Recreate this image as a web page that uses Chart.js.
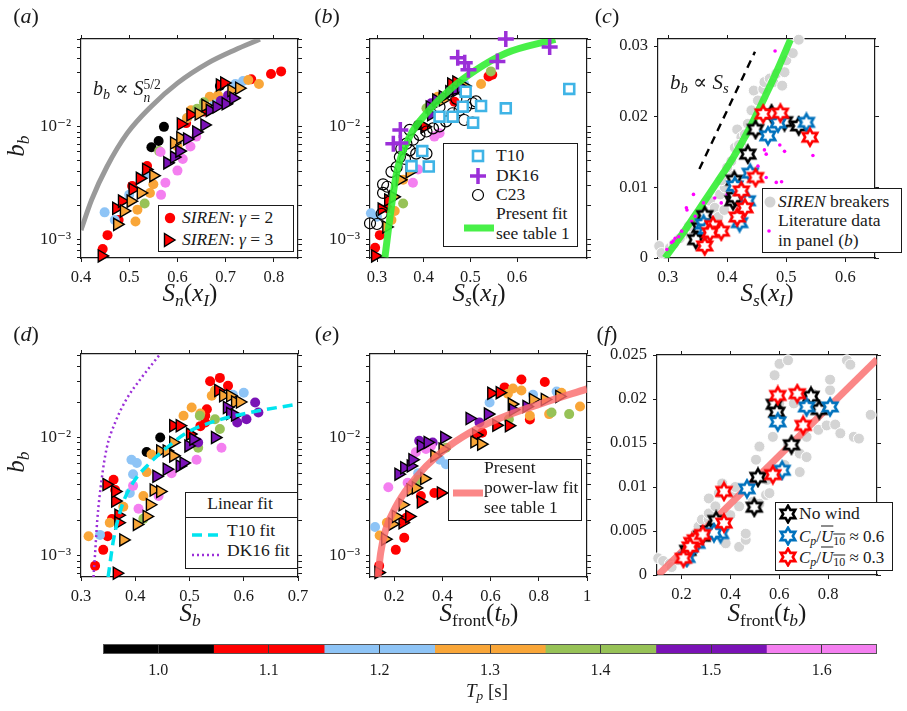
<!DOCTYPE html>
<html>
<head>
<meta charset="utf-8">
<script src="https://cdn.jsdelivr.net/npm/chart.js@4.4.0/dist/chart.umd.min.js"></script>
<style>
  body { margin: 0; background: #fff; }
  #fig { position: relative; width: 907px; height: 711px; overflow: hidden; background: #fff;
         font-family: 'Liberation Serif', 'DejaVu Serif', serif; color: #1a1a1a; }
  #fig canvas { position: absolute; }
  .txt { position: absolute; white-space: nowrap; line-height: 1; }
  .box { position: absolute; background: #fff; border: 1.3px solid #1a1a1a; box-sizing: border-box; }
  .sep { position: absolute; height: 0; border-top: 1.2px solid #1a1a1a; }
  sub { font-size: 70%; vertical-align: -0.3em; line-height: 0; }
  sup { font-size: 70%; vertical-align: 0.55em; line-height: 0; }
  .stack { display: inline-flex; flex-direction: column; font-size: 68%; line-height: 0.95; vertical-align: 0.45em; }
  .ovl { text-decoration: overline; }
</style>
</head>
<body>
<div id="fig"></div>
<script>
// ---- colour bar classes (T_p in s)
const tpValues = [1.0, 1.1, 1.2, 1.3, 1.4, 1.5, 1.6];
const tpColors = ['#000000', '#ff0000', '#8ec4f6', '#f9a638', '#97c257', '#7a12b6', '#f47ff0'];
const tpEdges = [0.95, 1.05, 1.15, 1.25, 1.35, 1.45, 1.55, 1.65];

// ---- tick positions
const logTicksTop = [0.0007, 0.0008, 0.0009, 0.001, 0.002, 0.003, 0.004, 0.005, 0.006, 0.007, 0.008, 0.009, 0.01, 0.02, 0.03, 0.04, 0.05, 0.06];
const logTicksBottom = [0.0007, 0.0008, 0.0009, 0.001, 0.002, 0.003, 0.004, 0.005, 0.006, 0.007, 0.008, 0.009, 0.01, 0.02, 0.03, 0.04, 0.05];
const logMajor = [0.001, 0.01];
const logMajorText = ['10⁻³', '10⁻²'];
const aXTicks = [0.4, 0.5, 0.6, 0.7, 0.8];
const bXTicks = [0.3, 0.4, 0.5, 0.6];
const cXTicks = [0.3, 0.4, 0.5, 0.6];
const cYTicks = [0, 0.01, 0.02, 0.03];
const dXTicks = [0.3, 0.4, 0.5, 0.6, 0.7];
const eXTicks = [0.2, 0.4, 0.6, 0.8, 1];
const fXTicks = [0.2, 0.4, 0.6, 0.8];
const fYTicks = [0, 0.005, 0.01, 0.015, 0.02, 0.025];

// ---- (a) b_b vs S_n(x_I); rows are [T_p, x, b_b]
const aCircles = [
  [1.0,0.546,0.0066],[1.0,0.561,0.0075],[1.0,0.572,0.0100],[1.0,0.688,0.0230],
  [1.1,0.445,0.00083],[1.1,0.455,0.0011],[1.1,0.478,0.0015],[1.1,0.506,0.0030],[1.1,0.537,0.0045],[1.1,0.618,0.0108],[1.1,0.655,0.0137],[1.1,0.753,0.0264],[1.1,0.794,0.0294],[1.1,0.815,0.0310],
  [1.2,0.449,0.00175],[1.2,0.470,0.0015],[1.2,0.500,0.0025],[1.2,0.535,0.0038],[1.2,0.620,0.0120],[1.2,0.677,0.0160],[1.2,0.720,0.0240],[1.2,0.736,0.0255],
  [1.3,0.513,0.00145],[1.3,0.517,0.00185],[1.3,0.543,0.0026],[1.3,0.550,0.0031],[1.3,0.600,0.0067],[1.3,0.620,0.0120],[1.3,0.628,0.0140],[1.3,0.667,0.0185],[1.3,0.684,0.0190],[1.3,0.747,0.0260],[1.3,0.769,0.0240],
  [1.4,0.532,0.0021],[1.4,0.562,0.0061],[1.4,0.641,0.0145],[1.4,0.655,0.0165],
  [1.5,0.690,0.0170],[1.5,0.705,0.0190],
  [1.6,0.566,0.0025],[1.6,0.575,0.0032],[1.6,0.600,0.0041],[1.6,0.611,0.0052],[1.6,0.627,0.0067],[1.6,0.639,0.0082],[1.6,0.565,0.0060]
];
const aTriangles = [
  [1.1,0.443,0.00072],[1.1,0.473,0.0019],[1.1,0.485,0.0022],[1.1,0.507,0.0028],[1.1,0.522,0.0035],[1.1,0.535,0.0042],[1.1,0.607,0.0106],[1.1,0.627,0.0128],[1.1,0.688,0.0235],[1.1,0.697,0.0245],
  [1.3,0.475,0.00137],[1.3,0.489,0.0018],[1.3,0.503,0.0022],[1.3,0.524,0.0026],[1.3,0.550,0.0037],[1.3,0.593,0.0072],[1.3,0.606,0.0080],[1.3,0.644,0.0130],[1.3,0.658,0.0155],[1.3,0.712,0.0210],[1.3,0.728,0.0220],
  [1.5,0.579,0.0048],[1.5,0.593,0.0054],[1.5,0.604,0.0061],[1.5,0.620,0.0078],[1.5,0.639,0.0090],[1.5,0.656,0.0104],[1.5,0.667,0.0140],[1.5,0.681,0.0150],[1.5,0.700,0.0160],[1.5,0.716,0.0180]
];
const aPowerX = [0.400, 0.422, 0.454, 0.496, 0.545, 0.600, 0.663, 0.719, 0.771];
const aPowerY = [0.00122, 0.00226, 0.00446, 0.0088, 0.0151, 0.0244, 0.0367, 0.048, 0.0597];

// ---- (b) b_b vs S_s(x_I)
const bCircles = [
  [1.0,0.388,0.0104],
  [1.1,0.296,0.00085],[1.1,0.306,0.0011],[1.1,0.322,0.0019],[1.1,0.466,0.0167],[1.1,0.539,0.028],[1.1,0.547,0.029],
  [1.2,0.287,0.00172],[1.2,0.300,0.0016],[1.2,0.487,0.024],
  [1.3,0.331,0.0015],[1.3,0.338,0.0018],[1.3,0.356,0.0034],[1.3,0.430,0.0185],[1.3,0.523,0.024],
  [1.4,0.356,0.0021],[1.4,0.406,0.0146],[1.4,0.544,0.031],
  [1.5,0.416,0.0162],
  [1.6,0.377,0.0032],[1.6,0.388,0.0042],[1.6,0.423,0.0082],[1.6,0.434,0.0088]
];
const bTriangles = [
  [1.1,0.296,0.00072],[1.1,0.310,0.00187],[1.1,0.324,0.00225],[1.1,0.459,0.024],[1.1,0.470,0.025],[1.1,0.402,0.010],
  [1.3,0.320,0.0013],[1.3,0.335,0.0024],[1.3,0.349,0.0034],[1.3,0.370,0.004],[1.3,0.441,0.0173],[1.3,0.487,0.023],
  [1.5,0.413,0.015],[1.5,0.427,0.0173],[1.5,0.441,0.0185],[1.5,0.455,0.0205],[1.5,0.470,0.021],[1.5,0.480,0.0225],[1.5,0.416,0.0128]
];
const t10X = [0.712, 0.576, 0.523, 0.490, 0.484, 0.462, 0.434, 0.506, 0.397, 0.411, 0.374];
const t10Y = [0.0217, 0.0146, 0.0153, 0.0205, 0.0151, 0.0123, 0.0123, 0.0109, 0.0061, 0.00445, 0.0045];
const dk16X = [0.576, 0.670, 0.558, 0.473, 0.488, 0.496, 0.350, 0.335, 0.350];
const dk16Y = [0.060, 0.051, 0.038, 0.041, 0.037, 0.032, 0.0094, 0.0071, 0.0072];
const c23X = [0.285, 0.300, 0.310, 0.313, 0.322, 0.313, 0.331, 0.342, 0.349, 0.352, 0.363, 0.377, 0.391, 0.406, 0.420, 0.434, 0.448, 0.462, 0.477, 0.491, 0.505, 0.512, 0.487, 0.505, 0.470, 0.434, 0.406, 0.384, 0.370, 0.360, 0.370];
const c23Y = [0.0014, 0.00138, 0.0017, 0.0026, 0.00295, 0.0031, 0.0040, 0.0044, 0.0054, 0.0064, 0.0071, 0.0077, 0.0085, 0.0091, 0.0097, 0.0101, 0.0112, 0.0132, 0.0141, 0.0151, 0.0162, 0.0168, 0.0115, 0.0109, 0.0177, 0.0150, 0.0058, 0.0058, 0.0062, 0.0052, 0.0094];
const bFitX = [0.317, 0.328, 0.342, 0.370, 0.406, 0.455, 0.512, 0.576, 0.682];
const bFitY = [0.0007, 0.0016, 0.0039, 0.0082, 0.0132, 0.0212, 0.0319, 0.0449, 0.0596];

// ---- (c) linear b_b vs S_s(x_I)
const cSirenX = [0.285,0.289,0.303,0.326,0.343,0.354,0.365,0.371,0.379,0.388,0.396,0.402,0.407,0.413,0.417,0.424,0.427,0.435,0.441,0.445,0.452,0.461,0.463,0.472,0.478,0.483,0.493,0.497,0.500,0.511,0.521,0.335,0.348,0.360,0.390,0.400,0.420,0.430,0.310,0.320,0.350,0.370,0.385,0.395,0.405];
const cSirenY = [0.0017,0.0007,0.0014,0.0033,0.0038,0.0055,0.0062,0.0081,0.0071,0.0090,0.0100,0.0119,0.0137,0.0156,0.0182,0.0171,0.0156,0.0190,0.0209,0.0237,0.0223,0.0239,0.0249,0.0254,0.0249,0.0261,0.0244,0.0263,0.0280,0.0290,0.0309,0.0045,0.0050,0.0068,0.0110,0.0128,0.0160,0.0175,0.0020,0.0028,0.0030,0.0045,0.0058,0.0068,0.0085];
const cLitX = [0.481,0.343,0.331,0.332,0.346,0.340,0.323,0.312,0.309,0.298,0.371,0.379,0.469,0.466,0.463,0.489,0.497,0.545,0.466,0.483,0.492,0.355,0.362,0.318,0.306,0.360,0.390,0.400,0.452,0.470];
const cLitY = [0.0293,0.0090,0.0071,0.0068,0.0059,0.0052,0.0038,0.0028,0.0024,0.0012,0.0062,0.0085,0.0036,0.0147,0.0153,0.0160,0.0151,0.0145,0.0114,0.0107,0.0108,0.0065,0.0058,0.0030,0.0022,0.0078,0.0078,0.0090,0.0130,0.0165];
const cNoWindX = [0.347,0.354,0.362,0.410,0.413,0.412,0.435,0.448,0.475,0.497,0.521];
const cNoWindY = [0.0026,0.0043,0.0060,0.0081,0.0086,0.0110,0.0147,0.0182,0.0204,0.0193,0.0187];
const cWind06X = [0.360,0.365,0.413,0.421,0.434,0.439,0.469,0.486,0.534];
const cWind06Y = [0.0048,0.0041,0.0102,0.0050,0.0081,0.0120,0.0173,0.0191,0.0192];
const cWind03X = [0.362,0.376,0.390,0.371,0.417,0.424,0.430,0.448,0.461,0.490,0.540];
const cWind03Y = [0.0017,0.0046,0.0038,0.0036,0.0058,0.0095,0.0071,0.0114,0.0204,0.0205,0.0171];
const cFitX = [0.295, 0.325, 0.354, 0.382, 0.410, 0.438, 0.466, 0.487, 0.507];
const cFitY = [0, 0.0035, 0.0071, 0.0106, 0.0142, 0.0184, 0.0232, 0.027, 0.0309];
const cSlopeX = [0.353, 0.447];
const cSlopeY = [0.0126, 0.0292];

// ---- (d) b_b vs S_b
const dCircles = [
  [1.0,0.446,0.0100],[1.0,0.421,0.00755],
  [1.1,0.326,0.00082],[1.1,0.341,0.00112],[1.1,0.349,0.00146],[1.1,0.357,0.00204],[1.1,0.360,0.0044],[1.1,0.363,0.0036],[1.1,0.538,0.030],[1.1,0.556,0.032],[1.1,0.529,0.0153],[1.1,0.532,0.0174],[1.1,0.529,0.0134],[1.1,0.571,0.0275],[1.1,0.520,0.0125],
  [1.2,0.335,0.0015],[1.2,0.393,0.0065],[1.2,0.403,0.0061],[1.2,0.396,0.0049],[1.2,0.390,0.0034],[1.2,0.600,0.024],[1.2,0.580,0.023],
  [1.3,0.314,0.00146],[1.3,0.353,0.0019],[1.3,0.378,0.0026],[1.3,0.421,0.0051],[1.3,0.430,0.0072],[1.3,0.415,0.0032],[1.3,0.489,0.0153],[1.3,0.504,0.018],[1.3,0.541,0.0226],[1.3,0.547,0.025],[1.3,0.520,0.016],
  [1.4,0.415,0.00205],[1.4,0.519,0.0153],[1.4,0.547,0.0143],[1.4,0.556,0.0118],[1.4,0.516,0.0082],
  [1.5,0.516,0.0091],[1.5,0.621,0.0198],[1.5,0.627,0.0163],[1.5,0.605,0.0143],[1.5,0.588,0.0134],
  [1.6,0.396,0.0039],[1.6,0.406,0.0025],[1.6,0.443,0.0032],[1.6,0.467,0.0050],[1.6,0.513,0.0065],[1.6,0.559,0.0082]
];
const dTriangles = [
  [1.1,0.366,0.00071],[1.1,0.347,0.0040],[1.1,0.363,0.0029],[1.1,0.363,0.0035],[1.1,0.369,0.0022],[1.1,0.369,0.0019],[1.1,0.470,0.0126],[1.1,0.482,0.0126],[1.1,0.501,0.0107],[1.1,0.553,0.025],
  [1.3,0.378,0.00136],[1.3,0.403,0.00184],[1.3,0.421,0.00215],[1.3,0.427,0.0027],[1.3,0.434,0.0036],[1.3,0.446,0.0035],[1.3,0.446,0.0077],[1.3,0.458,0.0077],[1.3,0.470,0.0091],[1.3,0.470,0.0070],[1.3,0.562,0.0226],[1.3,0.575,0.0226],[1.3,0.584,0.0200],[1.3,0.593,0.0200],
  [1.5,0.439,0.0047],[1.5,0.458,0.0054],[1.5,0.482,0.00575],[1.5,0.489,0.0061],[1.5,0.498,0.0085],[1.5,0.507,0.0097],[1.5,0.547,0.0100],[1.5,0.569,0.0180],[1.5,0.575,0.0160],[1.5,0.584,0.0155]
];
const dT10FitX = [0.350, 0.360, 0.375, 0.396, 0.427, 0.458, 0.495, 0.550, 0.611, 0.700];
const dT10FitY = [0.00066, 0.00137, 0.0026, 0.00415, 0.0061, 0.0082, 0.011, 0.0139, 0.0163, 0.0192];
const dDK16FitX = [0.323, 0.326, 0.330, 0.338, 0.347, 0.363, 0.384, 0.409, 0.446];
const dDK16FitY = [0.00066, 0.00105, 0.0020, 0.0044, 0.0080, 0.0134, 0.0212, 0.031, 0.051];

// ---- (e) b_b vs S_front(t_b)
const eCircles = [
  [1.1,0.138,0.00082],[1.1,0.207,0.00112],[1.1,0.242,0.00142],[1.1,0.251,0.0021],[1.1,0.311,0.0032],[1.1,0.367,0.0034],[1.1,0.565,0.011],[1.1,0.658,0.0266],[1.1,0.728,0.031],[1.1,0.825,0.0295],[1.1,0.763,0.0142],
  [1.2,0.121,0.00175],[1.2,0.415,0.00595],[1.2,0.596,0.0198],[1.2,0.776,0.023],[1.2,0.874,0.0245],[1.2,0.390,0.0065],[1.2,0.300,0.0050],
  [1.3,0.140,0.00148],[1.3,0.693,0.026],[1.3,0.672,0.0235],[1.3,0.728,0.025],[1.3,0.763,0.0153],[1.3,0.843,0.0158],[1.3,0.894,0.024],[1.3,0.971,0.0183],[1.3,0.170,0.0019],
  [1.4,0.415,0.0082],[1.4,0.301,0.0044],[1.4,0.288,0.0041],[1.4,0.853,0.0163],[1.4,0.926,0.0158],[1.4,0.676,0.0143],
  [1.5,0.304,0.0094],[1.5,0.360,0.0091],[1.5,0.554,0.0134],
  [1.6,0.176,0.0038],[1.6,0.290,0.0075],[1.6,0.332,0.008],[1.6,0.353,0.0085],[1.6,0.256,0.00415]
];
const eTriangles = [
  [1.1,0.135,0.00072],[1.1,0.235,0.0019],[1.1,0.263,0.00215],[1.1,0.311,0.00285],[1.1,0.394,0.0034],[1.1,0.540,0.0105],[1.1,0.624,0.0127],[1.1,0.676,0.0126],[1.1,0.603,0.0237],[1.1,0.638,0.024],
  [1.3,0.163,0.00138],[1.3,0.193,0.00185],[1.3,0.207,0.00215],[1.3,0.235,0.0027],[1.3,0.269,0.0036],[1.3,0.290,0.00375],[1.3,0.325,0.0045],[1.3,0.367,0.0070],[1.3,0.401,0.0080],[1.3,0.533,0.0092],[1.3,0.561,0.0088],[1.3,0.688,0.0192],[1.3,0.776,0.0210],[1.3,0.825,0.0210],[1.3,0.885,0.0223],
  [1.5,0.218,0.0049],[1.5,0.242,0.00555],[1.5,0.269,0.00575],[1.5,0.276,0.0065],[1.5,0.311,0.0085],[1.5,0.339,0.0091],[1.5,0.408,0.0100],[1.5,0.513,0.0145],[1.5,0.589,0.0158],[1.5,0.693,0.0172],[1.5,0.749,0.0183]
];
const eFitX = [0.133, 0.144, 0.165, 0.207, 0.263, 0.332, 0.429, 0.540, 0.665, 0.804, 1.0];
const eFitY = [0.00066, 0.00105, 0.00166, 0.0026, 0.0039, 0.0057, 0.0085, 0.0118, 0.0153, 0.0192, 0.0258];

// ---- (f) linear b_b vs S_front(t_b)
const fSirenX = [0.105,0.125,0.153,0.160,0.188,0.215,0.243,0.257,0.270,0.284,0.298,0.312,0.312,0.312,0.339,0.353,0.353,0.367,0.381,0.381,0.408,0.436,0.436,0.463,0.463,0.491,0.505,0.519,0.519,0.546,0.560,0.574,0.581,0.601,0.622,0.636,0.636,0.684,0.684,0.712,0.712,0.739,0.760,0.794,0.808,0.808,0.829,0.850,0.877,0.891,0.905,0.926,0.974,0.600,0.660,0.220,0.330,0.400,0.420,0.550];
const fSirenY = [0.0019,0.0016,0.0013,0.0009,0.0017,0.0028,0.0025,0.0047,0.0055,0.0063,0.0044,0.0063,0.0070,0.0087,0.0078,0.0093,0.0047,0.0104,0.0036,0.0059,0.0093,0.0032,0.0078,0.0040,0.0047,0.0083,0.0131,0.0146,0.0081,0.0091,0.0093,0.0157,0.0227,0.0240,0.0125,0.0148,0.0244,0.0138,0.0117,0.0157,0.0134,0.0206,0.0165,0.0170,0.0210,0.0222,0.0171,0.0161,0.0244,0.0239,0.0157,0.0155,0.0182,0.0195,0.0195,0.0015,0.0055,0.0068,0.0100,0.0108];
const fNoWindX = [0.226,0.284,0.312,0.342,0.498,0.513,0.650,0.580,0.590,0.730,0.764];
const fNoWindY = [0.0028,0.0044,0.0050,0.0062,0.0077,0.0111,0.0148,0.0194,0.0185,0.0203,0.0188];
const fWind06X = [0.222,0.263,0.360,0.468,0.612,0.594,0.712,0.808,0.333];
const fWind06Y = [0.0020,0.0036,0.0047,0.0098,0.0119,0.0174,0.0191,0.0191,0.0048];
const fWind03X = [0.208,0.243,0.257,0.287,0.374,0.374,0.574,0.594,0.674,0.698,0.236];
const fWind03Y = [0.0019,0.0037,0.0040,0.0046,0.0059,0.0095,0.0114,0.0204,0.0206,0.0170,0.0032];
const fFitX = [0.105, 1.0];
const fFitY = [0, 0.0245];

const fig = document.getElementById('fig');
const INK = '#1a1a1a';
const FONT = "'Liberation Serif', 'DejaVu Serif', serif";
const LEG = 17.5;

const fmt = v => String(+v.toFixed(3));
const logFmt = v => {
  const k = logMajor.findIndex(m => Math.abs(m - v) < 1e-9);
  return k < 0 ? '' : logMajorText[k];
};

function axis(position, spec, size) {
  const horizontal = position === 'top' || position === 'bottom';
  const mirror = position === 'top' || position === 'right';
  return {
    type: spec.log ? 'logarithmic' : 'linear',
    axis: horizontal ? 'x' : 'y',
    position, min: spec.min, max: spec.max, bounds: 'data',
    afterBuildTicks: s => { s.ticks = spec.ticks.map(v => ({ value: v })); },
    afterFit: s => {
      if (horizontal) s.height = size; else s.width = size;
      s.paddingLeft = s.paddingRight = s.paddingTop = s.paddingBottom = 0;
    },
    grid: { drawOnChartArea: false, tickLength: 4, tickColor: INK, tickWidth: 1 },
    border: { display: true, color: INK, width: 1.2 },
    ticks: {
      display: !mirror, autoSkip: false, maxRotation: 0, minRotation: 0, padding: 6,
      color: INK, font: { family: FONT, size: spec.log ? 17 : 16.5 },
      callback: spec.log ? logFmt : fmt
    }
  };
}

// layers are listed back to front
function panel(frame, xs, ys, layers) {
  const pad = { l: 72, t: 14, r: 16, b: 42 };
  const cv = document.createElement('canvas');
  cv.width = frame.r - frame.l + pad.l + pad.r;
  cv.height = frame.b - frame.t + pad.t + pad.b;
  cv.style.left = (frame.l - pad.l) + 'px';
  cv.style.top = (frame.t - pad.t) + 'px';
  fig.appendChild(cv);
  new Chart(cv, {
    type: 'scatter',
    data: { datasets: layers.slice().reverse() },
    options: {
      responsive: false, animation: false, events: [],
      layout: { padding: { left: 0, top: pad.t, right: pad.r, bottom: 0 } },
      plugins: { legend: { display: false }, tooltip: { enabled: false } },
      scales: {
        x: axis('bottom', xs, pad.b), y: axis('left', ys, pad.l),
        x2: axis('top', xs, 0), y2: axis('right', ys, 0)
      }
    }
  });
}

const byTp = (list, tp) => list.filter(p => p[0] === tp).map(p => ({ x: p[1], y: p[2] }));
const xy = (xArr, yArr) => xArr.map((x, i) => ({ x, y: yArr[i] }));

const circles = list => tpValues.map((tp, i) => ({
  data: byTp(list, tp), pointStyle: 'circle', pointRadius: 5,
  pointBackgroundColor: tpColors[i], pointBorderWidth: 0, clip: false
}));
const triangles = list => tpValues.map((tp, i) => ({
  data: byTp(list, tp), pointStyle: 'triangle', pointRotation: 90, pointRadius: 7,
  pointBackgroundColor: tpColors[i], pointBorderColor: '#000', pointBorderWidth: 1.4, clip: false
}));
const marks = (data, style) => Object.assign({ data, clip: false }, style);
const curve = (data, color, width, dash) => ({
  data, showLine: true, pointRadius: 0, borderColor: color, borderWidth: width,
  borderDash: dash || [], cubicInterpolationMode: 'monotone', borderCapStyle: 'butt'
});

function hexPoints(cx, cy, R) {
  const pts = [];
  for (let k = 0; k < 12; k++) {
    const a = -Math.PI / 2 + k * Math.PI / 6;
    const rad = k % 2 ? R / Math.sqrt(3) : R;
    pts.push([cx + rad * Math.cos(a), cy + rad * Math.sin(a)]);
  }
  return pts;
}
function hexagram(color) {
  const c = document.createElement('canvas');
  c.width = c.height = 22;
  const g = c.getContext('2d');
  g.beginPath();
  hexPoints(11, 11, 8.3).forEach(p => g.lineTo(p[0], p[1]));
  g.closePath();
  g.fillStyle = '#fff'; g.fill();
  g.lineJoin = 'miter'; g.lineWidth = 2.6; g.strokeStyle = color; g.stroke();
  return c;
}
const starBlack = hexagram('#000'), starBlue = hexagram('#0072bd'), starRed = hexagram('#ff0000');
const star = (data, img) => marks(data, { pointStyle: img, pointRadius: 8 });
const gray = data => marks(data, { pointStyle: 'circle', pointRadius: 5.5, pointBackgroundColor: '#d4d4d4', pointBorderColor: '#fff', pointBorderWidth: 1 });

const GREEN = 'rgba(52,238,52,0.9)';
const SALMON = 'rgba(250,105,105,0.8)';

// (a)
panel({ l: 81, t: 39, r: 298, b: 258 },
  { min: 0.4, max: 0.85, ticks: aXTicks },
  { log: true, min: 0.00069, max: 0.06, ticks: logTicksTop },
  [curve(xy(aPowerX, aPowerY), '#9a9a9a', 5), ...circles(aCircles), ...triangles(aTriangles)]);

// (b)
panel({ l: 370, t: 39, r: 587, b: 258 },
  { min: 0.285, max: 0.75, ticks: bXTicks },
  { log: true, min: 0.00069, max: 0.06, ticks: logTicksTop },
  [...circles(bCircles), ...triangles(bTriangles),
   marks(xy(c23X, c23Y), { pointStyle: 'circle', pointRadius: 5.5, pointBackgroundColor: 'rgba(0,0,0,0)', pointBorderColor: '#000', pointBorderWidth: 1.2 }),
   curve(xy(bFitX, bFitY), GREEN, 7),
   marks(xy(t10X, t10Y), { pointStyle: 'rect', pointRadius: 7, pointBackgroundColor: '#fff', pointBorderColor: '#3fb4e6', pointBorderWidth: 2.6 }),
   marks(xy(dk16X, dk16Y), { pointStyle: 'cross', pointRadius: 8, pointBorderColor: '#9b2fd8', pointBorderWidth: 3.5 })]);

// (c)
panel({ l: 658, t: 39, r: 875, b: 258 },
  { min: 0.283, max: 0.65, ticks: cXTicks },
  { min: 0, max: 0.031, ticks: cYTicks },
  [gray(xy(cSirenX, cSirenY)),
   curve(xy(cFitX, cFitY), GREEN, 7),
   marks(xy(cLitX, cLitY), { pointStyle: 'circle', pointRadius: 1.8, pointBackgroundColor: '#ff00ff', pointBorderWidth: 0 }),
   curve(xy(cSlopeX, cSlopeY), '#000', 2.4, [8, 6]),
   star(xy(cNoWindX, cNoWindY), starBlack), star(xy(cWind06X, cWind06Y), starBlue), star(xy(cWind03X, cWind03Y), starRed)]);

// (d)
panel({ l: 81, t: 354, r: 298, b: 577 },
  { min: 0.3, max: 0.7, ticks: dXTicks },
  { log: true, min: 0.00066, max: 0.051, ticks: logTicksBottom },
  [...circles(dCircles), ...triangles(dTriangles),
   curve(xy(dT10FitX, dT10FitY), '#00e4ef', 3.5, [10, 6]),
   curve(xy(dDK16FitX, dDK16FitY), '#9b2fd8', 2.5, [2, 3])]);

// (e)
panel({ l: 370, t: 354, r: 587, b: 577 },
  { min: 0.1, max: 1, ticks: eXTicks },
  { log: true, min: 0.00066, max: 0.051, ticks: logTicksBottom },
  [...circles(eCircles), ...triangles(eTriangles), curve(xy(eFitX, eFitY), SALMON, 7)]);

// (f)
panel({ l: 657, t: 355, r: 877, b: 575 },
  { min: 0.1, max: 1, ticks: fXTicks },
  { min: 0, max: 0.025, ticks: fYTicks },
  [gray(xy(fSirenX, fSirenY)), curve(xy(fFitX, fFitY), SALMON, 7),
   star(xy(fNoWindX, fNoWindY), starBlack), star(xy(fWind06X, fWind06Y), starBlue), star(xy(fWind03X, fWind03Y), starRed)]);

// colour bar
(function () {
  const frame = { l: 103, t: 644, r: 877, b: 654 };
  const pad = { l: 20, t: 4, r: 20, b: 28 };
  const cv = document.createElement('canvas');
  cv.width = frame.r - frame.l + pad.l + pad.r;
  cv.height = frame.b - frame.t + pad.t + pad.b;
  cv.style.left = (frame.l - pad.l) + 'px';
  cv.style.top = (frame.t - pad.t) + 'px';
  fig.appendChild(cv);
  const outline = {
    id: 'outline',
    afterDraw(chart) {
      const a = chart.chartArea, g = chart.ctx;
      g.save(); g.strokeStyle = '#555'; g.lineWidth = 1;
      g.strokeRect(a.left + 0.5, a.top + 0.5, a.right - a.left - 1, a.bottom - a.top - 1);
      g.restore();
    }
  };
  new Chart(cv, {
    type: 'bar',
    data: {
      labels: [''],
      datasets: tpValues.map((tp, i) => ({
        data: [[tpEdges[i], tpEdges[i + 1]]], backgroundColor: tpColors[i], borderWidth: 0,
        barPercentage: 1, categoryPercentage: 1, grouped: false
      }))
    },
    options: {
      indexAxis: 'y', responsive: false, animation: false, events: [],
      layout: { padding: { left: pad.l, top: pad.t, right: pad.r, bottom: 0 } },
      plugins: { legend: { display: false }, tooltip: { enabled: false } },
      scales: {
        x: {
          type: 'linear', min: tpEdges[0], max: tpEdges[tpEdges.length - 1],
          afterBuildTicks: s => { s.ticks = tpValues.map(v => ({ value: v })); },
          afterFit: s => { s.height = pad.b; s.paddingLeft = s.paddingRight = 0; },
          grid: { drawOnChartArea: true, drawTicks: false, z: 1, color: '#3a3a3a', lineWidth: 1 },
          border: { display: false },
          ticks: { padding: 7, color: INK, font: { family: FONT, size: 16 }, callback: v => v.toFixed(1) }
        },
        y: { display: false }
      }
    },
    plugins: [outline]
  });
})();

// ---- text and legends (HTML overlay)
function text(html, x, y, size, anchor, rotate) {
  const d = document.createElement('div');
  d.className = 'txt';
  d.innerHTML = html;
  d.style.left = x + 'px';
  d.style.top = y + 'px';
  d.style.fontSize = size + 'px';
  const tx = anchor === 'left' ? '0' : '-50%';
  d.style.transform = `translate(${tx},-50%)` + (rotate ? ` rotate(${rotate}deg)` : '');
  fig.appendChild(d);
}
function box(l, t, r, b) {
  const d = document.createElement('div');
  d.className = 'box';
  Object.assign(d.style, { left: l + 'px', top: t + 'px', width: (r - l) + 'px', height: (b - t) + 'px' });
  fig.appendChild(d);
}
function mark(inner, x, y, w, h) {
  const d = document.createElement('div');
  d.style.cssText = `position:absolute;left:${x - w / 2}px;top:${y - h / 2}px;width:${w}px;height:${h}px`;
  d.innerHTML = `<svg width="${w}" height="${h}" viewBox="0 0 ${w} ${h}">${inner}</svg>`;
  fig.appendChild(d);
}
const svgHex = c => `<polygon points="${hexPoints(10, 10, 8.3).map(p => p.join(',')).join(' ')}" fill="#fff" stroke="${c}" stroke-width="2.6"/>`;
const svgTri = c => `<polygon points="4.5,3.5 15,10 4.5,16.5" fill="${c}" stroke="#000" stroke-width="1.4"/>`;
const svgLine = (c, w, dash) => `<line x1="0" y1="5" x2="30" y2="5" stroke="${c}" stroke-width="${w}" ${dash ? `stroke-dasharray="${dash}"` : ''}/>`;

// panel letters
[['a', 26, 16], ['b', 327, 16], ['c', 607, 16], ['d', 26, 334], ['e', 327, 334], ['f', 607, 334]]
  .forEach(([k, x, y]) => text(`(<i>${k}</i>)`, x, y, 22));

// axis titles
const S = '<i>S</i>';
text(`${S}<sub><i>n</i></sub>(<i>x</i><sub><i>I</i></sub>)`, 190, 292, 25);
text(`${S}<sub><i>s</i></sub>(<i>x</i><sub><i>I</i></sub>)`, 479, 292, 25);
text(`${S}<sub><i>s</i></sub>(<i>x</i><sub><i>I</i></sub>)`, 767, 292, 25);
text(`${S}<sub><i>b</i></sub>`, 190, 612, 25);
text(`${S}<sub>front</sub>(<i>t</i><sub><i>b</i></sub>)`, 479, 612, 25);
text(`${S}<sub>front</sub>(<i>t</i><sub><i>b</i></sub>)`, 767, 612, 25);
text('<i>b</i><sub><i>b</i></sub>', 15, 146, 25, null, -90);
text('<i>b</i><sub><i>b</i></sub>', 15, 462, 25, null, -90);
text('<i>T</i><sub><i>p</i></sub> [s]', 487, 690, 19);

// in-plot annotations
text(`<i>b</i><sub><i>b</i></sub> ∝ ${S}<span class="stack"><span>5/2</span><span><i>n</i></span></span>`, 93, 91, 20, 'left');
text(`<i>b</i><sub><i>b</i></sub> ∝ ${S}<sub><i>s</i></sub>`, 670, 82, 21, 'left');

// legend (a)
box(158, 205, 294, 252);
mark(`<circle cx="10" cy="10" r="5.2" fill="#ff0000"/>`, 170, 218, 20, 20);
mark(svgTri('#ff0000'), 170, 240, 20, 20);
text('<i>SIREN</i>: <i>γ</i> = 2', 182, 218, LEG, 'left');
text('<i>SIREN</i>: <i>γ</i> = 3', 182, 240, LEG, 'left');

// legend (b)
box(443, 143, 578, 247);
mark(`<rect x="5" y="5" width="10" height="10" fill="#fff" stroke="#3fb4e6" stroke-width="2.6"/>`, 478, 156, 20, 20);
mark(`<path d="M10 2V18M2 10H18" stroke="#9b2fd8" stroke-width="3.5"/>`, 478, 176, 20, 20);
mark(`<circle cx="10" cy="10" r="5.5" fill="none" stroke="#000" stroke-width="1.2"/>`, 478, 195, 20, 20);
mark(svgLine(GREEN, 7), 479, 224, 30, 10);
text('T10', 496, 156, LEG, 'left');
text('DK16', 496, 176, LEG, 'left');
text('C23', 496, 195, LEG, 'left');
text('Present fit', 496, 214, LEG, 'left');
text('see table 1', 496, 234, LEG, 'left');

// legend (c)
box(762, 188, 902, 253);
mark(`<circle cx="10" cy="10" r="5.5" fill="#d4d4d4"/>`, 770, 202, 20, 20);
mark(`<circle cx="10" cy="10" r="1.8" fill="#ff00ff"/>`, 769, 231, 20, 20);
text('<i>SIREN</i> breakers', 778, 202, LEG, 'left');
text('Literature data', 778, 221, LEG, 'left');
text('in panel (<i>b</i>)', 778, 241, LEG, 'left');

// legend (d)
box(185, 492, 298, 569);
const sepD = document.createElement('div');
sepD.className = 'sep';
Object.assign(sepD.style, { left: '185px', top: '517px', width: '113px' });
fig.appendChild(sepD);
text('Linear fit', 240, 504, LEG);
mark(svgLine('#00e4ef', 3.5, '10 6'), 207, 531, 30, 10);
mark(svgLine('#9b2fd8', 2.5, '2 3'), 207, 551, 30, 10);
text('T10 fit', 227, 531, LEG, 'left');
text('DK16 fit', 227, 551, LEG, 'left');

// legend (e)
box(448, 459, 582, 521);
mark(svgLine(SALMON, 7), 468, 489, 30, 10);
text('Present', 484, 468, LEG, 'left');
text('power-law fit', 484, 488, LEG, 'left');
text('see table 1', 484, 508, LEG, 'left');

// legend (f)
box(775, 502, 893, 571);
mark(svgHex('#000'), 788, 514, 20, 20);
mark(svgHex('#0072bd'), 788, 536, 20, 20);
mark(svgHex('#ff0000'), 788, 557, 20, 20);
const cpu = '<i>C</i><sub><i>p</i></sub>/<span class="ovl"><i>U</i><sub>10</sub></span>';
text('No wind', 799, 514, LEG, 'left');
text(`${cpu} ≈ 0.6`, 799, 536, 17, 'left');
text(`${cpu} ≈ 0.3`, 799, 557, 17, 'left');
</script>
</body>
</html>
